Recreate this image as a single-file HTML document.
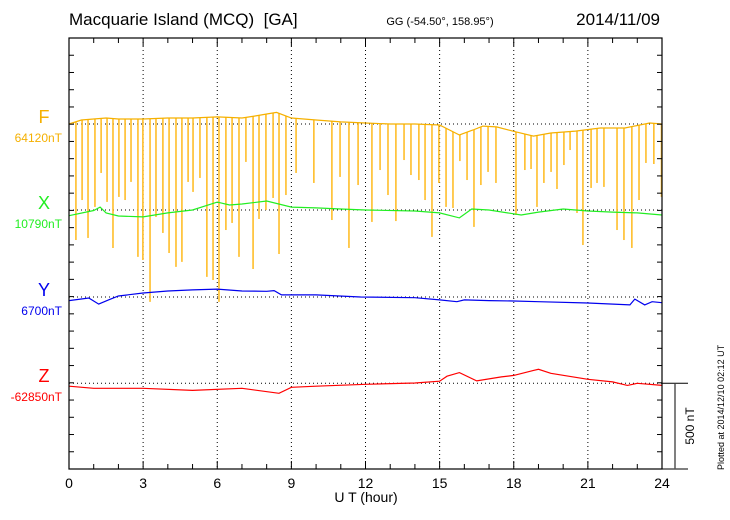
<!DOCTYPE html>
<html><head><meta charset="utf-8"><style>
html,body{margin:0;padding:0;background:#fff;}
svg{display:block;font-family:"Liberation Sans",sans-serif;}
</style></head><body>
<svg id="chart" width="730" height="520" viewBox="0 0 730 520" xmlns="http://www.w3.org/2000/svg">
<text x="69" y="25" font-size="17">Macquarie Island (MCQ)&#160; [GA]</text>
<text x="440" y="25" font-size="11" text-anchor="middle">GG (-54.50°, 158.95°)</text>
<text x="660" y="25" font-size="17" text-anchor="end">2014/11/09</text>
<text x="366" y="502" font-size="14" text-anchor="middle">U T (hour)</text>
<text transform="translate(694,426) rotate(-90)" font-size="12" text-anchor="middle">500 nT</text>
<text transform="translate(724,470) rotate(-90)" font-size="9">Plotted at 2014/12/10 02:12 UT</text>
<g id="grid"></g><g id="series"></g><g id="axes"></g>
</svg>
<script>
const NS="http://www.w3.org/2000/svg";
const hourTicks=[0,3,6,9,12,15,18,21,24];
const baseF=64120, baseX=10790, baseY=6700, baseZ=-62850;
const fTimes=[0,0.5,1,1.5,2,3,4,5,6,7,7.5,8,8.4,9,10,11,12,13,14,15,15.8,16.35,16.75,17.3,18.1,18.8,19.5,20.5,21.5,22.5,23.5,24];
const fVals=[0,23,29,35,29,29,35,35,41,35,46,58,67,35,23,12,6,0,0,-6,-64,-35,-12,-17,-46,-70,-52,-41,-23,-23,6,0];
const spikeTimes=[0.28,0.53,0.77,1.05,1.30,1.54,1.78,2.02,2.27,2.51,2.79,2.99,3.28,3.52,3.80,4.05,4.33,4.57,4.82,5.02,5.30,5.58,5.83,6.07,6.35,6.60,6.88,7.16,7.45,7.69,7.97,8.26,8.50,8.78,9.19,9.91,10.64,10.97,11.33,11.70,12.26,12.59,12.91,13.23,13.56,13.84,14.16,14.41,14.69,14.97,15.26,15.54,15.82,16.11,16.39,16.67,16.96,17.28,18.09,18.45,18.70,18.94,19.22,19.51,19.75,20.03,20.28,20.56,20.80,21.13,21.37,21.65,22.18,22.46,22.78,23.07,23.35,23.67,23.98];
const spikeVals=[-673,-441,-661,-481,-284,-452,-719,-423,-441,-336,-771,-789,-1032,-539,-632,-748,-829,-800,-336,-394,-313,-887,-905,-1032,-615,-574,-771,-220,-841,-551,-499,-429,-754,-412,-284,-342,-557,-307,-719,-354,-568,-267,-412,-563,-209,-296,-325,-441,-655,-342,-481,-487,-215,-325,-597,-354,-278,-342,-528,-267,-261,-481,-342,-278,-377,-238,-151,-516,-702,-371,-342,-365,-615,-673,-719,-441,-226,-232,-423];
const xTimes=[0,1,1.26,1.5,2,3,4,5,6,6.5,7,8,9,10,11,12,14,15,15.8,16.3,17,18.3,19,20,21,22,23,24];
const xVals=[-33,-3,17,-17,-35,-40,-17,0,46,29,35,52,17,12,6,0,-6,-17,-46,6,0,-29,-12,6,-6,-12,-17,-29];
const yTimes=[0,0.8,1.2,1.6,2,3,4,5,6,7,8,8.3,8.6,10,11.8,14,15,15.7,16,17,18,19,21,22.7,22.9,23.3,23.6,24];
const yVals=[-21,-6,-41,-17,6,23,35,41,46,35,33,37,12,12,0,-4,-17,-27,-17,-21,-23,-27,-35,-46,-12,-46,-27,-33];
const zTimes=[0,1,3,5,7,8.5,9,10,12,14,15,15.3,15.8,16.5,17.5,18,18.8,19,19.5,20.5,21,22,22.6,23,24];
const zVals=[-17,-29,-29,-41,-29,-58,-23,-17,-6,2,12,41,62,14,37,46,75,81,58,35,23,8,-12,0,-12];

const X0=69,X1=662,TOP=38,BOT=469,PXNT=86.2/500;
const sx=t=>X0+(X1-X0)*t/24;
const baseYpx={F:124,X:210,Y:297,Z:383.3};
const sy=(k,v)=>baseYpx[k]-v*PXNT;
function mk(tag,attrs,parent){const e=document.createElementNS(NS,tag);for(const a in attrs)e.setAttribute(a,attrs[a]);parent.appendChild(e);return e;}
const grid=document.getElementById('grid'),ser=document.getElementById('series'),ax=document.getElementById('axes');
hourTicks.slice(1,-1).forEach(h=>{const l=mk('line',{x1:sx(h),x2:sx(h),y1:TOP,y2:BOT,stroke:'#000','stroke-width':1,'stroke-dasharray':'1,3'},grid);

});
['F','X','Y','Z'].forEach(k=>{const l=mk('line',{x1:X0,x2:X1,y1:baseYpx[k],y2:baseYpx[k],stroke:'#000','stroke-width':1,'stroke-dasharray':'1,3'},grid);

});
spikeTimes.forEach((t,i)=>{let fv=0;for(let j=0;j<fTimes.length-1;j++){if(t>=fTimes[j]&&t<=fTimes[j+1]){fv=fVals[j]+(fVals[j+1]-fVals[j])*(t-fTimes[j])/(fTimes[j+1]-fTimes[j]);break;}}
const l=mk('line',{x1:sx(t),x2:sx(t),y1:sy('F',fv),y2:sy('F',spikeVals[i]),stroke:'#ffbe2a','stroke-width':1.6},ser);

});
function line(k,ts,vs,col,name){const d=ts.map((t,i)=>(i?'L':'M')+sx(t).toFixed(1)+','+sy(k,vs[i]).toFixed(1)).join('');
const p=mk('path',{d:d,fill:'none',stroke:col,'stroke-width':1.2},ser);

}
line('F',fTimes,fVals,'#f5b000','f-series-line');
line('X',xTimes,xVals,'#22ee22','x-series-line');
line('Y',yTimes,yVals,'#0000ee','y-series-line');
line('Z',zTimes,zVals,'#ff0000','z-series-line');
const fr=mk('rect',{x:X0,y:TOP,width:X1-X0,height:BOT-TOP,fill:'none',stroke:'#000','stroke-width':1.2},ax);


for(let y=BOT;y>TOP+2;y-=86.2/5){mk('line',{x1:X0,x2:X0+5,y1:y,y2:y,stroke:'#000'},ax);mk('line',{x1:X1-5,x2:X1,y1:y,y2:y,stroke:'#000'},ax);}
for(let h=0;h<=24;h++){const len=h%3===0?8:5;mk('line',{x1:sx(h),x2:sx(h),y1:BOT,y2:BOT-len,stroke:'#000'},ax);mk('line',{x1:sx(h),x2:sx(h),y1:TOP,y2:TOP+len,stroke:'#000'},ax);}
hourTicks.forEach(h=>{const t=mk('text',{x:sx(h),y:488,'font-size':14,'text-anchor':'middle'},ax);t.textContent=h;

});
mk('line',{x1:X1,x2:688,y1:383.3,y2:383.3,stroke:'#000'},ax);
mk('line',{x1:X1,x2:688,y1:BOT,y2:BOT,stroke:'#000'},ax);
const sb=mk('line',{x1:675,x2:675,y1:383.3,y2:BOT,stroke:'#555','stroke-width':1.5},ax);


const labs=[['F',baseF,'#f5b000',124],['X',baseX,'#22ee22',210],['Y',baseY,'#0000ee',297],['Z',baseZ,'#ff0000',383]];
labs.forEach(([k,b,c,y])=>{const a=mk('text',{x:44,y:y-1,'font-size':18,fill:c,'text-anchor':'middle'},ax);a.textContent=k;


const v=mk('text',{x:62,y:y+18,'font-size':12,fill:c,'text-anchor':'end'},ax);v.textContent=b+'nT';

});
</script>
</body></html>
